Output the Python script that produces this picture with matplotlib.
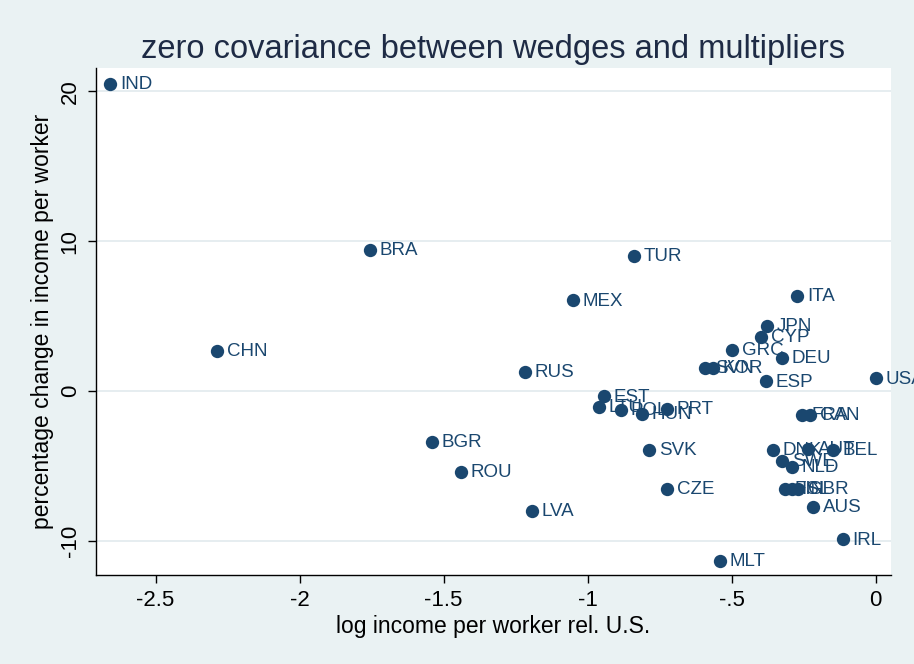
import matplotlib
matplotlib.use("Agg")
import matplotlib.pyplot as plt

countries = ["IND", "BRA", "TUR", "MEX", "CHN", "RUS", "ITA", "JPN", "CYP", "GRC",
             "DEU", "SVN", "KOR", "ESP", "USA", "EST", "LTU", "POL", "HUN", "PRT",
             "FRA", "CAN", "DNK", "AUT", "BEL", "SWE", "NLD", "FIN", "ISL", "GBR",
             "AUS", "IRL", "MLT", "CZE", "SVK", "LVA", "ROU", "BGR"]
log_income = [-2.658, -1.755, -0.839, -1.051, -2.287, -1.217, -0.273, -0.377, -0.398, -0.499,
              -0.325, -0.592, -0.565, -0.381, 0.0, -0.943, -0.962, -0.885, -0.812, -0.724,
              -0.256, -0.228, -0.356, -0.235, -0.148, -0.325, -0.290, -0.316, -0.292, -0.270,
              -0.218, -0.114, -0.541, -0.724, -0.787, -1.193, -1.440, -1.540]
pct_change = [20.5, 9.4, 9.0, 6.05, 2.7, 1.3, 6.35, 4.35, 3.6, 2.75,
              2.2, 1.55, 1.55, 0.65, 0.85, -0.35, -1.05, -1.25, -1.55, -1.2,
              -1.6, -1.6, -3.95, -3.85, -3.9, -4.65, -5.05, -6.5, -6.5, -6.5,
              -7.75, -9.9, -11.35, -6.55, -3.95, -8.0, -5.4, -3.4]

xticks = [-2.5, -2, -1.5, -1, -0.5, 0]
xticklabels = ["-2.5", "-2", "-1.5", "-1", "-.5", "0"]
yticks = [-10, 0, 10, 20]
yticklabels = ["-10", "0", "10", "20"]

bg = "#EAF2F3"
navy = "#1A476F"

plt.rcParams["font.family"] = ["Liberation Sans", "DejaVu Sans"]

fig = plt.figure(figsize=(9.14, 6.64), dpi=100, facecolor=bg)
ax = fig.add_axes([96 / 914, 1 - 575 / 664, (890.7 - 96) / 914, (575 - 68) / 664])
ax.set_facecolor("white")

ax.scatter(log_income, pct_change, s=92, color=navy, zorder=3, linewidths=0)
for c, x, y in zip(countries, log_income, pct_change):
    ax.annotate(c, (x, y), xytext=(7, -0.5), textcoords="offset points",
                ha="left", va="center", fontsize=13.5, color=navy, zorder=4,
                annotation_clip=False, clip_on=False)

ax.set_xlim(-2.707, 0.052)
ax.set_ylim(-12.27, 21.55)
ax.set_xticks(xticks)
ax.set_xticklabels(xticklabels, fontsize=16)
ax.set_yticks(yticks)
ax.set_yticklabels(yticklabels, fontsize=16, rotation=90, va="center")

ax.yaxis.grid(True, color="#E1EAEE", linewidth=1.2, zorder=0)
ax.set_axisbelow(True)
for s in ["top", "right"]:
    ax.spines[s].set_visible(False)
for s in ["left", "bottom"]:
    ax.spines[s].set_color("black")
    ax.spines[s].set_linewidth(1.0)
ax.tick_params(axis="both", direction="out", length=6, width=1, color="black", labelcolor="black", pad=5)

ax.set_xlabel("log income per worker rel. U.S.", fontsize=16.5, labelpad=3)
ax.set_ylabel("percentage change in income per worker", fontsize=16.5, labelpad=4)
ax.set_title("zero covariance between wedges and multipliers", fontsize=23.5, color="#1E2B45", pad=7)

fig.savefig("out.png", dpi=100, facecolor=bg)
